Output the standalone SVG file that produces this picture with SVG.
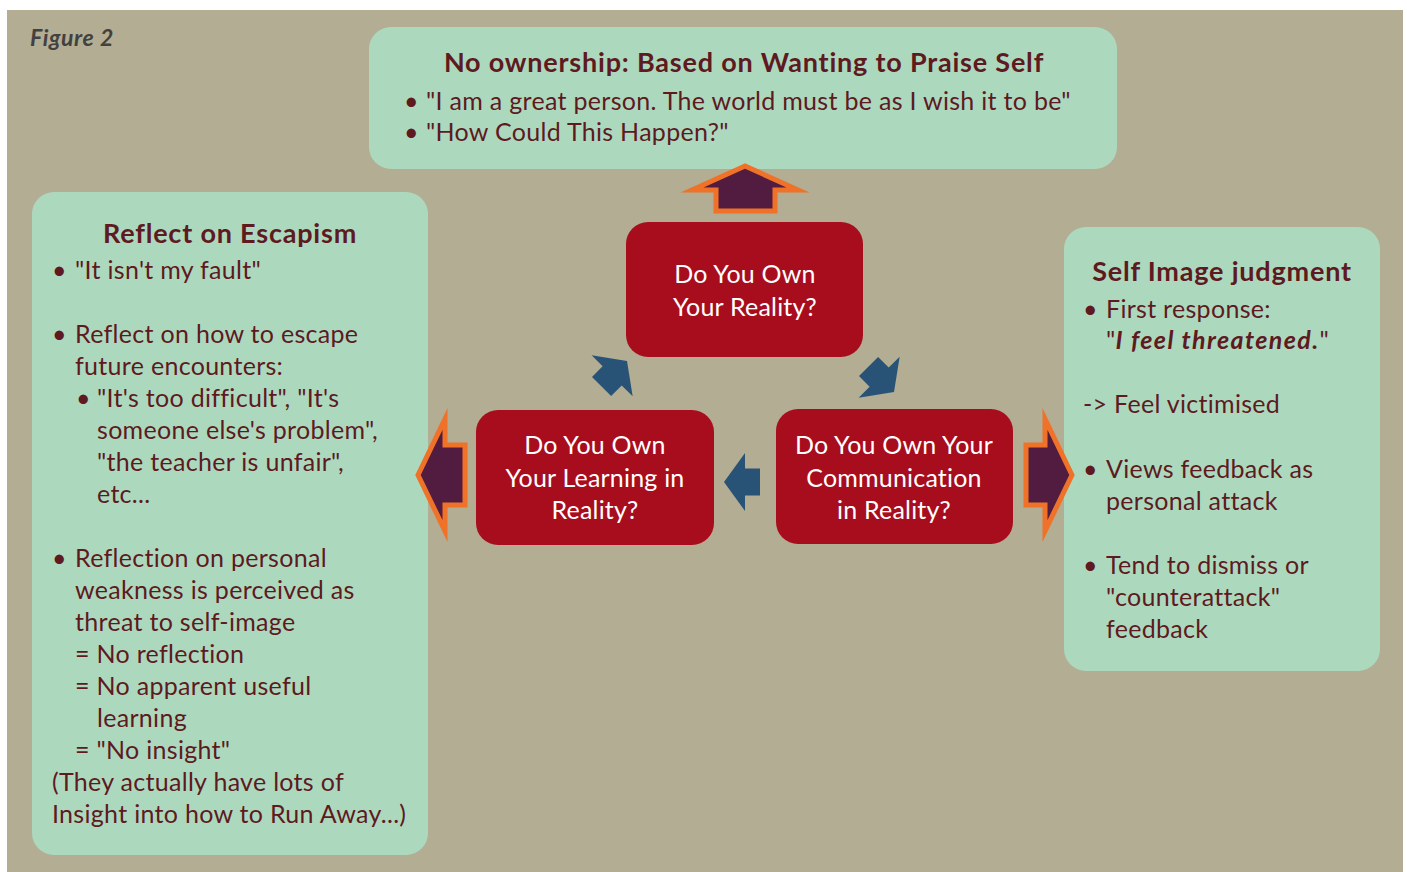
<svg xmlns="http://www.w3.org/2000/svg" width="1407" height="872" viewBox="0 0 1407 872">
<style>
.bg{fill:#b2ad93}
.note{fill:#acd9be}
.q{fill:#a80d1d}
.t{font-family:Lato,"Open Sans","Liberation Sans",sans-serif;fill:#5e1a1e;font-size:25px;letter-spacing:0.3px}
.h{font-weight:bold;font-size:27px;letter-spacing:0.8px}
.w{font-family:Lato,"Open Sans","Liberation Sans",sans-serif;fill:#ffffff;font-size:25px;text-anchor:middle;letter-spacing:0.2px}
.big{fill:#521c41;stroke:#f07228;stroke-width:5;stroke-linejoin:miter;stroke-miterlimit:10}
.small{fill:#285377}
</style>
<defs>
<polygon id="ba" points="0,0 -21,-29 -21,-13.5 -36,-13.5 -36,13.5 -21,13.5 -21,29"/>
</defs>
<rect x="0" y="0" width="1407" height="872" fill="#ffffff"/>
<rect class="bg" x="7" y="10" width="1396" height="862"/>
<text x="30" y="46" font-family="Lato,'Open Sans','Liberation Sans',sans-serif" font-size="23" font-weight="bold" font-style="italic" letter-spacing="0.6" fill="#414141">Figure 2</text>

<g id="no-ownership">
<rect class="note" x="369" y="27" width="748" height="142" rx="22"/>
<text class="t h" x="744" y="72" text-anchor="middle">No ownership: Based on Wanting to Praise Self</text>
<text class="t"><tspan x="404" y="110">•</tspan><tspan x="426" y="110">"I am a great person. The world must be as I wish it to be"</tspan><tspan x="404" y="141">•</tspan><tspan x="426" y="141">"How Could This Happen?"</tspan></text>
</g>

<g id="escapism">
<rect class="note" x="32" y="192" width="396" height="663" rx="22"/>
<text class="t h" x="230" y="243" text-anchor="middle">Reflect on Escapism</text>
<text class="t">
<tspan x="52" y="279">•</tspan><tspan x="75" y="279">"It isn't my fault"</tspan>
<tspan x="52" y="343">•</tspan><tspan x="75" y="343">Reflect on how to escape</tspan>
<tspan x="75" y="375">future encounters:</tspan>
<tspan x="76" y="407">•</tspan><tspan x="97" y="407">"It's too difficult", "It's</tspan>
<tspan x="97" y="439">someone else's problem",</tspan>
<tspan x="97" y="471">"the teacher is unfair",</tspan>
<tspan x="97" y="503">etc...</tspan>
<tspan x="52" y="567">•</tspan><tspan x="75" y="567">Reflection on personal</tspan>
<tspan x="75" y="599">weakness is perceived as</tspan>
<tspan x="75" y="631">threat to self-image</tspan>
<tspan x="75" y="663">= No reflection</tspan>
<tspan x="75" y="695">= No apparent useful</tspan>
<tspan x="97" y="727">learning</tspan>
<tspan x="75" y="759">= "No insight"</tspan>
<tspan x="52" y="791">(They actually have lots of</tspan>
<tspan x="52" y="823">Insight into how to Run Away...)</tspan>
</text>
</g>

<g id="self-image">
<rect class="note" x="1064" y="227" width="316" height="444" rx="22"/>
<text class="t h" x="1222" y="281" text-anchor="middle">Self Image judgment</text>
<text class="t">
<tspan x="1083" y="318">•</tspan><tspan x="1106" y="318">First response:</tspan>
<tspan x="1106" y="349">"<tspan font-weight="bold" font-style="italic" letter-spacing="1.4">I feel threatened.</tspan>"</tspan>
<tspan x="1083" y="413">-&gt; Feel victimised</tspan>
<tspan x="1083" y="478">•</tspan><tspan x="1106" y="478">Views feedback as</tspan>
<tspan x="1106" y="510">personal attack</tspan>
<tspan x="1083" y="574">•</tspan><tspan x="1106" y="574">Tend to dismiss or</tspan>
<tspan x="1106" y="606">"counterattack"</tspan>
<tspan x="1106" y="638">feedback</tspan>
</text>
</g>

<g id="own-reality">
<rect class="q" x="626" y="222" width="237" height="135" rx="22"/>
<text class="w"><tspan x="745" y="283">Do You Own</tspan><tspan x="745" y="316">Your Reality?</tspan></text>
</g>

<g id="own-learning">
<rect class="q" x="476" y="410" width="238" height="135" rx="22"/>
<text class="w"><tspan x="595" y="454">Do You Own</tspan><tspan x="595" y="487">Your Learning in</tspan><tspan x="595" y="519">Reality?</tspan></text>
</g>

<g id="own-communication">
<rect class="q" x="776" y="409" width="237" height="135" rx="22"/>
<text class="w"><tspan x="894" y="454">Do You Own Your</tspan><tspan x="894" y="487">Communication</tspan><tspan x="894" y="519">in Reality?</tspan></text>
</g>

<g id="connectors">
<polygon class="big" points="745,166 692,190 716,190 716,211 775,211 775,190 798,190"/>
<polygon class="big" points="418,475 445,419 445,445 465,445 465,505 445,505 445,531"/>
<polygon class="big" points="1072,475 1045,419 1045,445 1026,445 1026,505 1045,505 1045,531"/>
<use href="#ba" class="small" transform="translate(627,361) rotate(-45)"/>
<use href="#ba" class="small" transform="translate(894,392) rotate(45)"/>
<use href="#ba" class="small" transform="translate(724,482) rotate(180)"/>
</g>
</svg>
